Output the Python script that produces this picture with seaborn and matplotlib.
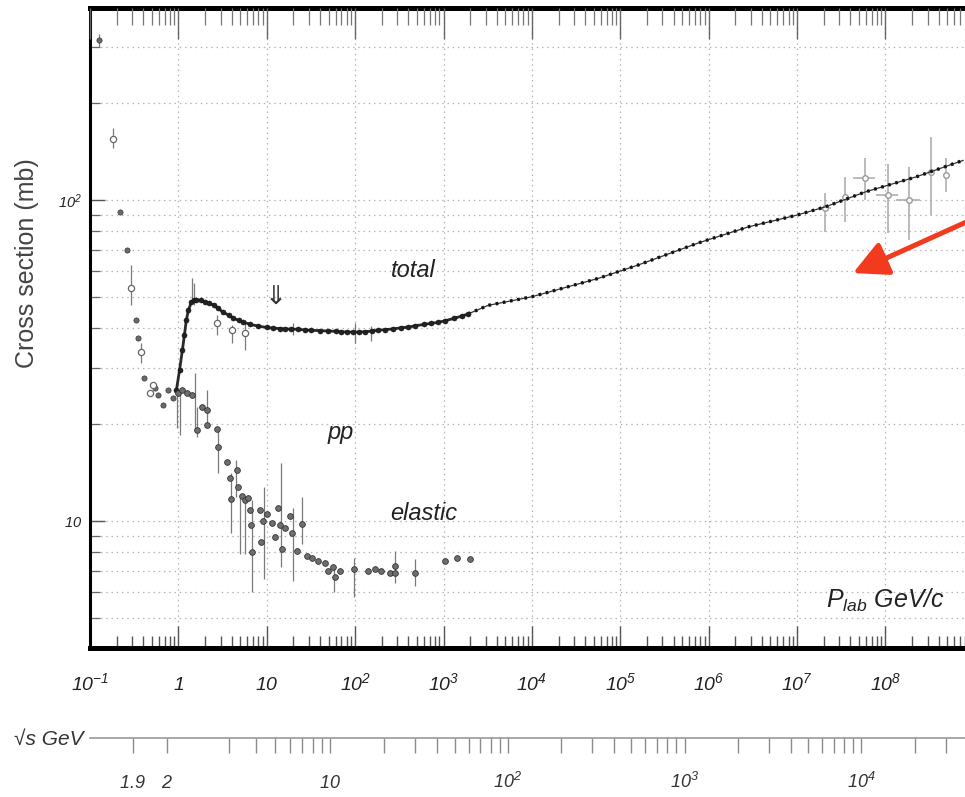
import numpy as np
import matplotlib
matplotlib.use("Agg")
import matplotlib.pyplot as plt
from matplotlib.ticker import FixedLocator, LogLocator, NullFormatter
import seaborn as sns

sns.set_style("white")
plt.rcParams["font.family"] = ["Liberation Sans", "DejaVu Sans"]
plt.rcParams["mathtext.fontset"] = "custom"
plt.rcParams["mathtext.rm"] = "Liberation Sans:italic"
plt.rcParams["mathtext.it"] = "Liberation Sans:italic"
plt.rcParams["mathtext.sf"] = "Liberation Sans:italic"

# ---------------- data (P_lab in GeV/c, cross section in mb) ----------------
# low-momentum region (purely elastic below threshold)
low_p = [0.128, 0.221, 0.265, 0.332, 0.353, 0.412, 0.545, 0.594, 0.677, 0.771, 0.878]
low_sig = [315, 92, 70, 42.3, 37.2, 27.9, 26.0, 24.7, 23.0, 25.6, 24.2]

# open-symbol measurements
open_p = [0.184, 0.294, 0.375, 0.479, 0.52, 2.7, 4.0, 5.7]
open_sig = [155, 53.3, 33.7, 25.1, 26.5, 41.4, 39.4, 38.5]

# total cross section, accelerator data
tot_p = [0.95, 1.03, 1.11, 1.17, 1.23, 1.30, 1.40, 1.50, 1.6, 1.8, 2.0, 2.2, 2.5, 2.8,
         3.2, 3.7, 4.2, 4.8, 5.4, 6.5, 8.0, 10, 11.9, 14, 16, 19, 22.8, 27, 32, 40,
         49.7, 60, 70, 80, 95, 110, 130, 155, 183, 220, 270, 330, 400, 480, 600,
         720, 870, 1050, 1300, 1600, 1900]
tot_sig = [25.6, 29.5, 34.1, 38.0, 42.3, 45.4, 48.1, 48.8, 48.9, 48.7, 48.2, 47.8, 47.1, 46.0,
           44.8, 43.8, 42.9, 42.2, 41.7, 41.0, 40.5, 40.1, 39.9, 39.8, 39.7, 39.6, 39.6, 39.4, 39.3, 39.2,
           39.1, 39.0, 38.9, 38.8, 38.8, 38.8, 38.9, 39.1, 39.3, 39.5, 39.7, 40.0, 40.2, 40.6, 41.0,
           41.3, 41.6, 42.1, 42.8, 43.5, 44.2]

# total cross section, high-energy fit
hi_p = [1900, 3200, 1e4, 5.6e4, 1.6e5, 7.6e5, 2.8e6, 1e7, 2.1e7, 5.9e7, 2.2e8, 7.6e8]
hi_sig = [44.2, 47.0, 50.0, 57.0, 62.8, 73.5, 82.5, 89.8, 95.3, 106.0, 118.0, 133.0]

# cosmic-ray points with errors
cr_p = [2.07e7, 3.48e7, 5.86e7, 1.06e8, 1.85e8, 3.24e8, 4.9e8]
cr_sig = [94.4, 102.4, 116.8, 103.6, 100.0, 122.5, 119.6]
cr_lo = [79.5, 85.5, 100.0, 79.0, 75.0, 89.8, 106.0]
cr_hi = [105.0, 118.0, 135.0, 130.0, 127.0, 157.0, 135.0]
cr_pmin = [1.75e7, 3.48e7, 4.3e7, 7.9e7, 1.32e8, 3.24e8, 4.9e8]
cr_pmax = [2.4e7, 3.48e7, 7.7e7, 1.4e8, 2.48e8, 3.24e8, 4.9e8]

# elastic cross section
el_p = [1.0, 1.09, 1.24, 1.41, 1.61, 1.83, 2.09, 2.09, 2.71, 2.83,
        3.52, 3.84, 3.9, 4.56, 4.77, 5.2, 5.67, 6.2, 6.47, 6.6,
        6.75, 8.4, 8.6, 9.1, 10.0, 11.4, 12.4, 13.5, 14.1, 14.7,
        16.1, 18.3, 19.1, 21.8, 24.8, 28.2, 32.1, 38.1, 45.4, 49.7,
        56.7, 59.3, 67.6, 98, 139, 168, 196, 248, 281, 281,
        474, 1035, 1430, 1970]
el_sig = [25.0, 25.6, 25.0, 24.7, 19.2, 22.7, 22.2, 19.9, 19.4, 17.0,
          15.3, 13.6, 11.7, 14.4, 12.8, 12.0, 11.6, 11.8, 10.8, 9.7,
          8.0, 10.8, 8.6, 10.0, 10.5, 9.9, 8.9, 11.0, 9.7, 8.2,
          9.5, 10.4, 9.2, 8.1, 9.8, 7.8, 7.7, 7.5, 7.4, 7.0,
          7.2, 6.7, 7.0, 7.07, 7.0, 7.07, 6.97, 6.9, 6.9, 7.25,
          6.9, 7.5, 7.7, 7.6]

# vertical error bars (momentum, lower, upper)
err_p = [0.128, 0.184, 0.294, 0.375, 0.97, 1.05, 1.42, 1.5, 1.55, 2.7, 4.0, 5.7, 20, 100, 150,
         1.61, 2.09, 2.83, 3.94, 4.5, 4.98, 5.67, 6.75, 9.4, 14.5, 20, 25, 58, 98, 281, 474]
err_lo = [300, 145, 47, 31, 19.5, 18.5, 48, 47, 19.0, 37.9, 35.9, 34.1, 38.0, 36.0, 36.5,
          18.3, 20.2, 14.1, 9.2, 11.9, 7.9, 7.9, 6.0, 6.6, 7.2, 6.5, 8.5, 6.0, 5.8, 6.4, 6.3]
err_hi = [330, 168, 63, 36, 27, 26, 57, 55, 29.0, 43.8, 40.8, 42.3, 41.5, 41.4, 40.5,
          22.6, 25.6, 19.6, 14.1, 15.5, 11.9, 11.9, 11.6, 12.8, 15.2, 11.0, 11.9, 7.2, 7.7, 8.1, 7.6]

# axis ticks
x_decades = [10.0 ** k for k in range(-1, 9)]
x_labels = ["$10^{-1}$", "$1$", "$10$", "$10^{2}$", "$10^{3}$", "$10^{4}$",
            "$10^{5}$", "$10^{6}$", "$10^{7}$", "$10^{8}$"]
x_minor = [m * 10.0 ** k for k in range(-1, 9) for m in range(2, 10)]
y_major = [10, 100]
y_labels = ["$10$", "$10^{2}$"]
rs_major = [1.9, 2, 10, 100, 1000, 10000]
rs_labels = ["$1.9$", "$2$", "$10$", "$10^{2}$", "$10^{3}$", "$10^{4}$"]
rs_minor = ([float(v) for v in range(3, 10)] + [10.0 * v for v in range(2, 10)]
            + [100.0 * v for v in range(2, 10)] + [1000.0 * v for v in range(2, 10)]
            + [20000.0, 30000.0])

M_P = 0.938  # proton mass, GeV


def plab_from_sqrts(rs):
    rs = np.asarray(rs, dtype=float)
    e_lab = (rs ** 2 - 2 * M_P ** 2) / (2 * M_P)
    return np.sqrt(e_lab ** 2 - M_P ** 2)


XLIM = (0.1, 10 ** 8.9)
YLIM = (4.04, 398)

# ---------------- figure ----------------
fig = plt.figure(figsize=(9.65, 7.97), dpi=100)
L, R = 90 / 965, 1.0
B, T = 1 - 647.5 / 797, 1 - 7.5 / 797
ax = fig.add_axes([L, B, R - L, T - B])
ax.set_xscale("log")
ax.set_yscale("log")
ax.set_xlim(*XLIM)
ax.set_ylim(*YLIM)
ax.set_axisbelow(True)

grid_kw = dict(color="#b4b4b4", linestyle=(0, (1.2, 3.0)), linewidth=0.9)
ax.xaxis.set_major_locator(FixedLocator(x_decades))
ax.xaxis.set_minor_locator(FixedLocator(x_minor))
ax.xaxis.set_minor_formatter(NullFormatter())
ax.yaxis.set_major_locator(FixedLocator(y_major))
ax.yaxis.set_minor_locator(LogLocator(base=10, subs=np.arange(2, 10), numticks=200))
ax.yaxis.set_minor_formatter(NullFormatter())
ax.grid(True, which="major", axis="x", **grid_kw)
ax.grid(True, which="both", axis="y", **grid_kw)

# short minor marks standing on the bottom frame line
ax.vlines(x_minor, 0, 0.018, transform=ax.get_xaxis_transform(),
          color="#555555", linewidth=1.0, zorder=2.4, clip_on=True)

# vertical error bars
ax.vlines(err_p, err_lo, err_hi, color="#7a7a7a", linewidth=0.9, zorder=2)

# high-energy fit line with dense marks
sns.lineplot(x=hi_p, y=hi_sig, ax=ax, color="#333333", linewidth=0.9,
             sort=False, estimator=None, zorder=3)
ax.plot(hi_p, hi_sig, color="#111111", linewidth=2.4,
        linestyle=(0, (0.8, 1.4)), zorder=3)

# accelerator total cross section
sns.lineplot(x=tot_p, y=tot_sig, ax=ax, color="#2a2a2a", linewidth=2.0,
             sort=False, estimator=None, zorder=3)
sns.scatterplot(x=tot_p, y=tot_sig, ax=ax, s=13, color="#222222",
                edgecolor="#111111", linewidth=0.4, zorder=4)

# low-momentum points
sns.scatterplot(x=low_p, y=low_sig, ax=ax, s=14, color="#6a6a6a",
                edgecolor="#333333", linewidth=0.5, zorder=4)

# elastic points
sns.scatterplot(x=el_p, y=el_sig, ax=ax, s=17, color="#6e6e6e",
                edgecolor="#333333", linewidth=0.6, zorder=4)

# open symbols
sns.scatterplot(x=open_p, y=open_sig, ax=ax, s=20, color="white",
                edgecolor="#666666", linewidth=0.9, zorder=4)

# cosmic-ray points
cr_p_a = np.array(cr_p)
cr_s_a = np.array(cr_sig)
ax.errorbar(cr_p_a, cr_s_a,
            yerr=[cr_s_a - np.array(cr_lo), np.array(cr_hi) - cr_s_a],
            xerr=[cr_p_a - np.array(cr_pmin), np.array(cr_pmax) - cr_p_a],
            fmt="o", ms=4, mfc="white", mec="#999999", ecolor="#a8a8a8",
            elinewidth=1.1, capsize=0, zorder=2)

# annotations
txt_kw = dict(ha="center", va="center", color="#222222", style="italic", fontsize=17)
ax.text(455, 60.5, "total", **txt_kw)
ax.text(68, 18.9, "pp", **txt_kw)
ax.text(590, 10.6, "elastic", **txt_kw)
ax.text(1.0e8, 5.68, r"$P_{\mathrm{lab}}$ GeV/c", ha="center", va="center",
        color="#222222", style="italic", fontsize=18)
ax.text(12.5, 49.5, "\u21d3", ha="center", va="center", color="#333333",
        fontsize=19, family=["DejaVu Sans"])

ax.annotate("", xy=(0.872, 0.585), xycoords="axes fraction",
            xytext=(1.005, 0.667), textcoords="axes fraction",
            arrowprops=dict(arrowstyle="-|>,head_length=0.55,head_width=0.28",
                            color="#f23b1e", lw=3.6, mutation_scale=38,
                            shrinkA=0, shrinkB=0),
            annotation_clip=False)

# spines and ticks
for side, lw in (("top", 3.6), ("bottom", 3.6), ("left", 2.2)):
    ax.spines[side].set_linewidth(lw)
    ax.spines[side].set_color("black")
ax.spines["right"].set_visible(False)

ax.set_xticklabels(x_labels)
ax.set_yticklabels(y_labels)
ax.set_xlabel("")
ax.set_ylabel("")

# top tick marks on a twin axis
axt = ax.twiny()
axt.set_xscale("log")
axt.set_xlim(*XLIM)
axt.xaxis.set_major_locator(FixedLocator(x_decades))
axt.xaxis.set_minor_locator(FixedLocator(x_minor))
axt.xaxis.set_major_formatter(NullFormatter())
axt.xaxis.set_minor_formatter(NullFormatter())
axt.tick_params(axis="x", which="major", direction="in", length=22, width=1.0,
                color="#666666", top=True, bottom=False, labeltop=False)
axt.tick_params(axis="x", which="minor", direction="in", length=12, width=0.9,
                color="#777777", top=True, bottom=False, labeltop=False)
for s in axt.spines.values():
    s.set_visible(False)

# bottom and left ticks (set after twiny, which resets tick sides)
ax.tick_params(axis="x", which="major", direction="in", length=16, width=1.0,
               color="#555555", bottom=True, top=False, pad=30.5,
               labelsize=14, labelcolor="#222222")
ax.tick_params(axis="x", which="minor", bottom=False, top=False)
ax.tick_params(axis="y", which="major", direction="in", length=11, width=1.0,
               color="#555555", left=True, right=False, pad=6,
               labelsize=10.5, labelcolor="#222222")
ax.tick_params(axis="y", which="minor", direction="in", length=7, width=0.9,
               color="#666666", left=True, right=False)
plt.setp(ax.get_xticklabels(), va="baseline")

fig.text(27 / 965, 1 - 263 / 797, "Cross section (mb)", rotation=90,
         ha="center", va="center", fontsize=18, color="#444444")

# sqrt(s) scale below the plot
ax2 = fig.add_axes([L, 1 - 738 / 797, R - L, 0.01])
ax2.set_xscale("log")
ax2.set_xlim(*XLIM)
ax2.patch.set_alpha(0)
for side in ("top", "left", "right"):
    ax2.spines[side].set_visible(False)
ax2.spines["bottom"].set_color("#999999")
ax2.spines["bottom"].set_linewidth(1.2)
ax2.set_yticks([])
ax2.xaxis.set_major_locator(FixedLocator(plab_from_sqrts(rs_major)))
ax2.xaxis.set_minor_locator(FixedLocator(plab_from_sqrts(rs_minor)))
ax2.xaxis.set_minor_formatter(NullFormatter())
ax2.set_xticklabels(rs_labels)
ax2.tick_params(axis="x", which="both", direction="out", length=11, width=1.0,
                color="#8a8a8a", bottom=True, top=False)
ax2.tick_params(axis="x", which="major", pad=25, labelsize=13, labelcolor="#333333")
plt.setp(ax2.get_xticklabels(), va="baseline")

fig.text(83 / 965, 1 - 739 / 797, "\u221as GeV", ha="right", va="center",
         fontsize=15, style="italic", color="#333333")

fig.savefig("out.png", dpi=100)
